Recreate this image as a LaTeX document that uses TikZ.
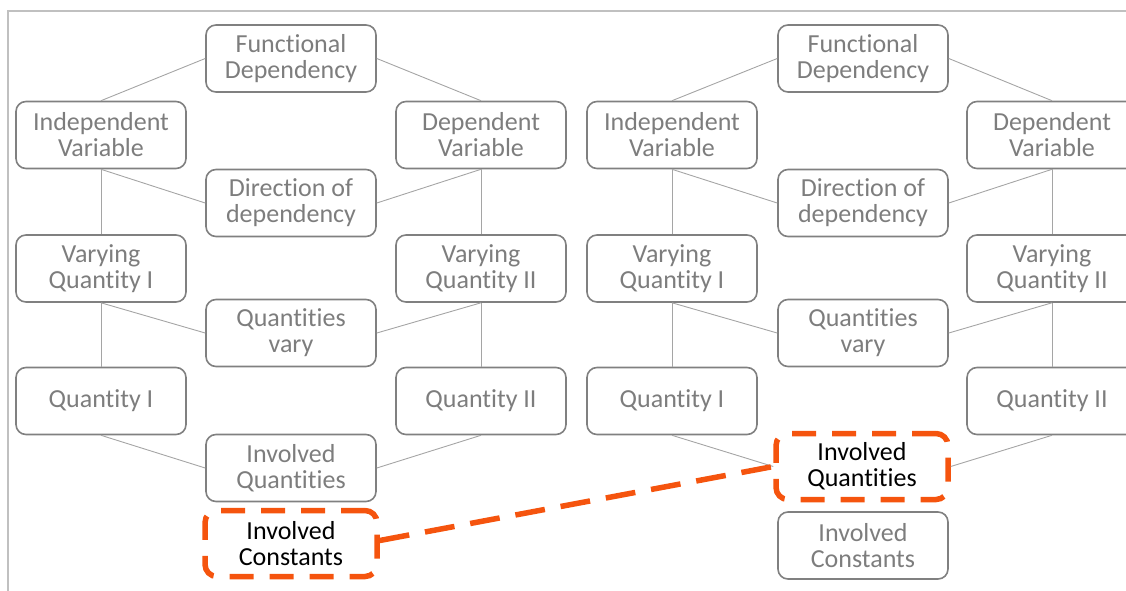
\documentclass[tikz,border=0pt]{standalone}
\usepackage{fontspec}
\setmainfont[Ligatures={NoCommon}]{Carlito}
\newcommand\QQ{Quant\kern0pt it\kern0pt ies}
\newcommand\DirW{Direct\kern0pt ion}
\definecolor{boxgray}{RGB}{128,128,128}
\definecolor{txtgray}{RGB}{125,125,125}
\definecolor{linegray}{RGB}{165,165,165}
\definecolor{framegray}{RGB}{192,192,192}
\definecolor{hiorange}{RGB}{245,84,14}
\begin{document}
\begin{tikzpicture}[x=1pt,y=-1pt,
  box/.style={draw=boxgray,line width=1.6pt,rounded corners=10pt,minimum width=170pt,minimum height=67pt,
    align=center,text=txtgray,font=\fontsize{26}{26}\selectfont,inner sep=0pt},
  hibox/.style={draw=hiorange,line width=5.5pt,dash pattern=on 24pt off 16pt,rounded corners=12pt,
    minimum width=172pt,minimum height=66pt,align=center,text=black,font=\fontsize{26}{26}\selectfont,inner sep=0pt},
  conn/.style={draw=linegray,line width=0.9pt},
  hiline/.style={draw=hiorange,line width=5.5pt,dash pattern=on 30pt off 16pt}]
\useasboundingbox (0,0) rectangle (1126,591);
\clip (0,0) rectangle (1126,591);
\draw[framegray,line width=1.6pt] (8,600) -- (8,11) -- (1140,11);
% left group
\node[box] (fdL) at (291,58.5) {Functional\\Dependency};
\node[box] (ivL) at (101,135) {Independent\\Variable};
\node[box] (dvL) at (481,135) {Dependent\\Variable};
\node[box] (drL) at (291,203) {\DirW{} of\\dependency};
\node[box] (v1L) at (101,268.5) {Varying\\Quantity I};
\node[box] (v2L) at (481,268.5) {Varying\\Quantity II};
\node[box] (qvL) at (291,333) {\QQ\\vary};
\node[box] (q1L) at (101,401) {Quantity I};
\node[box] (q2L) at (481,401) {Quantity II};
\node[box] (iqL) at (291,468) {Involved\\\QQ};
\node[hibox] (icL) at (291,543.5) {Involved\\Constants};
% right group
\node[box] (fdR) at (863,58.5) {Functional\\Dependency};
\node[box] (ivR) at (672,135) {Independent\\Variable};
\node[box] (dvR) at (1052,135) {Dependent\\Variable};
\node[box] (drR) at (863,203) {\DirW{} of\\dependency};
\node[box] (v1R) at (672,268.5) {Varying\\Quantity I};
\node[box] (v2R) at (1052,268.5) {Varying\\Quantity II};
\node[box] (qvR) at (863,333) {\QQ\\vary};
\node[box] (q1R) at (672,401) {Quantity I};
\node[box] (q2R) at (1052,401) {Quantity II};
\node[hibox] (iqR) at (862,466.5) {Involved\\\QQ};
\node[box] (icR) at (863,545.5) {Involved\\Constants};
% connectors
\foreach \s in {L,R}{
  \draw[conn] (fd\s.west) -- (iv\s.north);
  \draw[conn] (fd\s.east) -- (dv\s.north);
  \draw[conn] (iv\s.south) -- (dr\s.west);
  \draw[conn] (dv\s.south) -- (dr\s.east);
  \draw[conn] (iv\s.south) -- (v1\s.north);
  \draw[conn] (dv\s.south) -- (v2\s.north);
  \draw[conn] (v1\s.south) -- (qv\s.west);
  \draw[conn] (v2\s.south) -- (qv\s.east);
  \draw[conn] (v1\s.south) -- (q1\s.north);
  \draw[conn] (v2\s.south) -- (q2\s.north);
  \draw[conn] (q1\s.south) -- (iq\s.west);
  \draw[conn] (q2\s.south) -- (iq\s.east);
}
\draw[hiline] ([yshift=3pt]icL.east) -- (iqR.west);
\end{tikzpicture}
\end{document}
